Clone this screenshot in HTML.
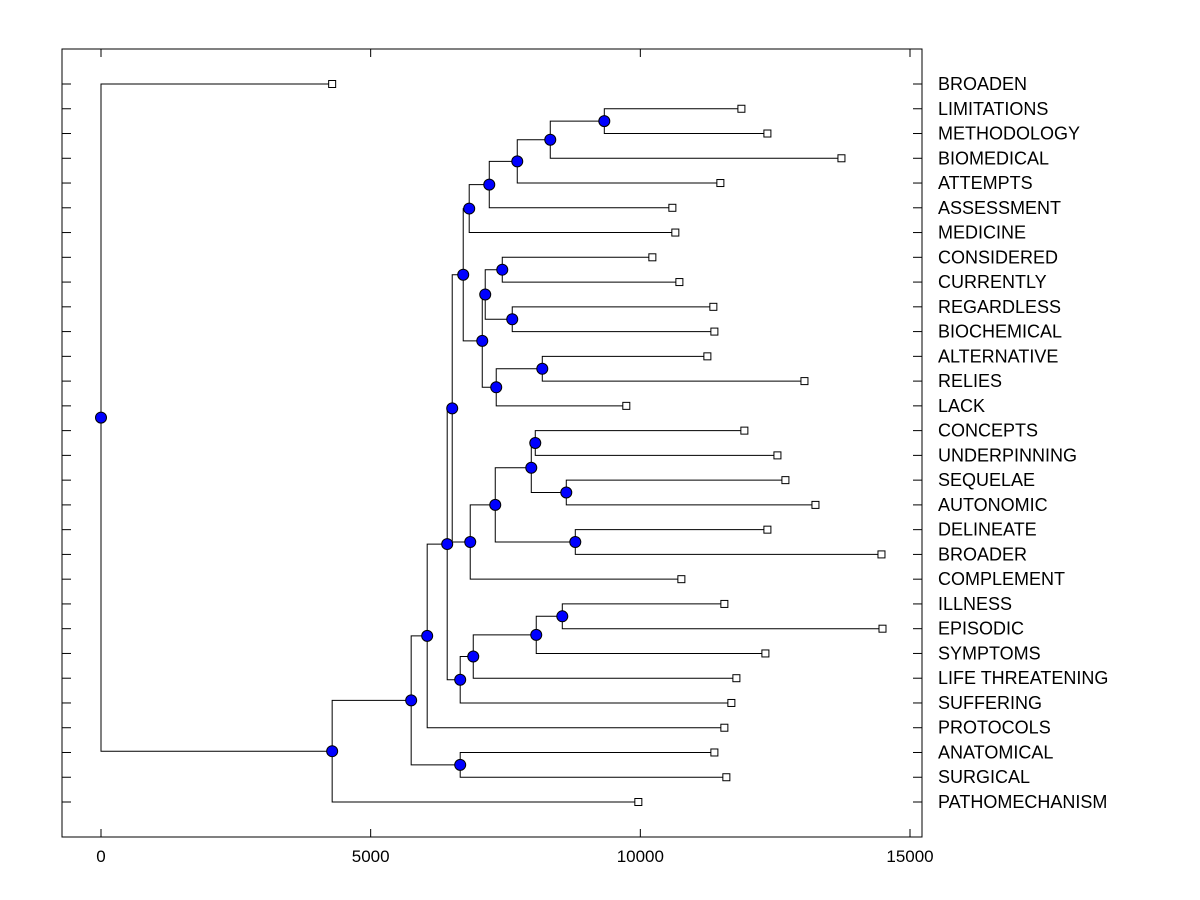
<!DOCTYPE html>
<html><head><meta charset="utf-8"><style>
body{margin:0;background:#fff;}
svg{display:block;font-family:"Liberation Sans",Arial,sans-serif;}
</style></head><body>
<svg id="chart" width="1200" height="900" viewBox="0 0 1200 900" xmlns="http://www.w3.org/2000/svg">
<rect x="0" y="0" width="1200" height="900" fill="#fff"/>
<g id="g"></g>
</svg>
<script>
const leafNames=["BROADEN","LIMITATIONS","METHODOLOGY","BIOMEDICAL","ATTEMPTS","ASSESSMENT","MEDICINE","CONSIDERED","CURRENTLY","REGARDLESS","BIOCHEMICAL","ALTERNATIVE","RELIES","LACK","CONCEPTS","UNDERPINNING","SEQUELAE","AUTONOMIC","DELINEATE","BROADER","COMPLEMENT","ILLNESS","EPISODIC","SYMPTOMS","LIFE THREATENING","SUFFERING","PROTOCOLS","ANATOMICAL","SURGICAL","PATHOMECHANISM"];
const leafValues=[4286,11874,12356,13729,11484,10594,10649,10223,10724,11354,11373,11243,13043,9740,11929,12542,12690,13247,12356,14471,10761,11558,14490,12319,11781,11688,11558,11373,11595,9963];
// merges: leaf refs "L<i>", node refs "N<i>"
const mergeLeft=["L1","N0","N1","N2","N3","L7","L9","N5","L11","N8","N7","N4","L14","L16","N12","L18","N14","N16","L21","N18","N19","N20","N11","N22","N23","L27","N24","N26","L0"];
const mergeRight=["L2","L3","L4","L5","L6","L8","L10","N6","L12","L13","N9","N10","L15","L17","N13","L19","N15","L20","L22","L23","L24","L25","N17","N21","L26","L28","N25","L29","N27"];
const mergeHeights=[9332,8330,7718,7199,6827,7440,7625,7124,8182,7328,7069,6716,8052,8627,7978,8794,7310,6846,8553,8070,6902,6660,6512,6419,6048,6660,5751,4286,0];
const xTicks=[0,5000,10000,15000];

const NS="http://www.w3.org/2000/svg";
const g=document.getElementById('g');
const L=62,R=922,T=49,B=837;
const X=v=>101+v*(809/15000);
const rowY=i=>84+i*(718/29);
function mk(tag,attrs,parent){const e=document.createElementNS(NS,tag);for(const k in attrs)e.setAttribute(k,attrs[k]);(parent||g).appendChild(e);return e;}

const fr=mk('rect',{x:L,y:T,width:R-L,height:B-T,fill:'none',stroke:'#000','stroke-width':1});



xTicks.forEach(t=>{
  const x=X(t);
  const a=mk('line',{x1:x,y1:B,x2:x,y2:B-8,stroke:'#000'});
  
  
  const b=mk('line',{x1:x,y1:T,x2:x,y2:T+8,stroke:'#000'});
  
  
  const tx=mk('text',{x:x,y:862,'font-size':17,'text-anchor':'middle',fill:'#000'});
  tx.textContent=t;
  
  
});
leafNames.forEach((n,i)=>{
  const y=rowY(i);
  const a=mk('line',{x1:L,y1:y,x2:L+9,y2:y,stroke:'#000'});
  
  
  const b=mk('line',{x1:R-9,y1:y,x2:R,y2:y,stroke:'#000'});
  
  
  const tx=mk('text',{x:938,y:y+6,'font-size':18,fill:'#000'});
  tx.textContent=n;
  
  
});

const nodes=[];
function pos(ref){
  const i=+ref.slice(1);
  if(ref[0]==='L')return {x:X(leafValues[i]),y:rowY(i)};
  return nodes[i];
}
const lines=mk('g',{});


for(let k=0;k<mergeHeights.length;k++){
  const a=pos(mergeLeft[k]),b=pos(mergeRight[k]);
  if(!a||!b)continue;
  const x=X(mergeHeights[k]);const y=(a.y+b.y)/2;
  nodes[k]={x,y};
  const p=mk('path',{d:`M${a.x},${a.y}H${x}V${b.y}H${b.x}`,fill:'none',stroke:'#000','stroke-width':1},lines);
  
  
}
leafNames.forEach((n,i)=>{
  const x=X(leafValues[i]),y=rowY(i);
  const r=mk('rect',{x:x-3.5,y:y-3.5,width:7,height:7,fill:'#fff',stroke:'#000'});
  
  
});
nodes.forEach(nd=>{
  if(!nd)return;
  const c=mk('circle',{cx:nd.x,cy:nd.y,r:5.5,fill:'#0000ff',stroke:'#000','stroke-width':1});
  
  
});
</script>
</body></html>
